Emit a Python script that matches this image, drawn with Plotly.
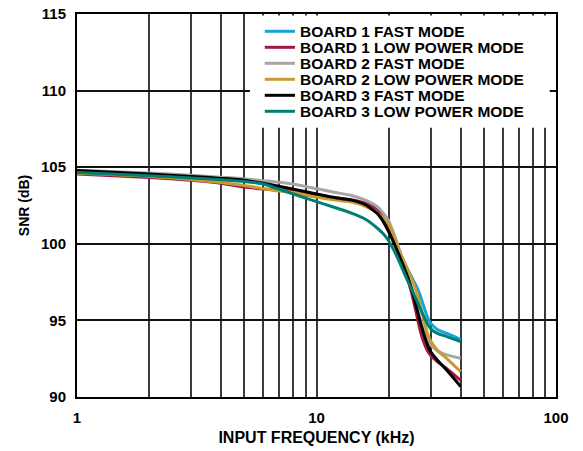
import plotly.graph_objects as go

# Input frequency (kHz) at which SNR was sampled
freq_khz = [1, 2, 3, 4, 5, 6, 7, 8, 10, 12, 14, 16, 18, 19, 20, 21, 22, 23, 24, 25,
            26, 27, 28, 29, 30, 32, 35, 40]

# SNR (dB) per board / mode
b1_fast = [104.70, 104.52, 104.37, 104.24, 104.12, 103.92, 103.72, 103.54, 103.20, 102.97,
           102.85, 102.60, 102.00, 101.55, 101.05, 100.40, 99.65, 98.95, 98.35, 97.80,
           97.30, 96.70, 95.95, 95.25, 94.80, 94.40, 94.15, 93.75]
b1_low = [104.55, 104.33, 104.15, 103.95, 103.70, 103.58, 103.50, 103.45, 103.20, 103.00,
          102.88, 102.65, 102.25, 101.70, 101.10, 100.35, 99.50, 98.60, 97.70, 96.75,
          95.60, 94.45, 93.60, 93.05, 92.70, 92.30, 91.85, 91.08]
b2_fast = [104.80, 104.62, 104.48, 104.35, 104.25, 104.12, 104.02, 103.90, 103.60, 103.35,
           103.15, 102.85, 102.40, 102.00, 101.50, 100.70, 99.80, 98.90, 98.00, 97.10,
           96.15, 95.20, 94.40, 93.80, 93.40, 93.00, 92.75, 92.53]
b2_low = [104.60, 104.40, 104.20, 104.00, 103.80, 103.60, 103.45, 103.35, 103.05, 102.85,
          102.72, 102.45, 102.00, 101.70, 101.30, 100.50, 99.65, 98.95, 98.30, 97.70,
          97.00, 96.10, 95.10, 94.20, 93.65, 93.05, 92.50, 91.66]
b3_fast = [104.78, 104.55, 104.40, 104.27, 104.15, 103.95, 103.75, 103.57, 103.25, 103.00,
           102.85, 102.55, 101.95, 101.45, 100.80, 100.10, 99.35, 98.60, 97.85, 97.00,
           96.00, 95.00, 94.15, 93.45, 92.95, 92.40, 91.75, 90.69]
b3_low = [104.65, 104.45, 104.30, 104.18, 104.07, 103.90, 103.55, 103.25, 102.75, 102.35,
          102.00, 101.60, 101.00, 100.65, 100.20, 99.60, 98.95, 98.25, 97.60, 97.00,
          96.40, 95.85, 95.30, 94.80, 94.45, 94.15, 93.94, 93.61]

series_names = [
    "BOARD 1 FAST MODE",
    "BOARD 1 LOW POWER MODE",
    "BOARD 2 FAST MODE",
    "BOARD 2 LOW POWER MODE",
    "BOARD 3 FAST MODE",
    "BOARD 3 LOW POWER MODE",
]
series_values = [b1_fast, b1_low, b2_fast, b2_low, b3_fast, b3_low]
series_colors = ["#17a2d9", "#a3183f", "#a6a6a6", "#c79b2f", "#000000", "#007f72"]

x_ticks = [1, 2, 3, 4, 5, 6, 7, 8, 9, 10, 20, 30, 40, 50, 60, 70, 80, 90, 100]
x_tick_text = ["1", "", "", "", "", "", "", "", "", "10", "", "", "", "", "", "", "", "", "100"]
y_ticks = [90, 95, 100, 105, 110, 115]

FONT = "Liberation Sans, Arial, Helvetica, sans-serif"

fig = go.Figure()
for name, vals, col in zip(series_names, series_values, series_colors):
    fig.add_trace(go.Scatter(
        x=freq_khz, y=vals, name=name, mode="lines",
        line=dict(color=col, width=3, shape="spline", smoothing=0.6),
        showlegend=False,
    ))

# Hand-built legend box (tighter row spacing than the built-in legend allows)
shapes = [dict(type="rect", xref="paper", yref="paper",
               x0=0.361, x1=0.987, y0=0.703, y1=0.996,
               fillcolor="white", line=dict(width=0), layer="above")]
annotations = []
row0_px, row_step_px, plot_h = 17.3, 16.0, 383.0
for i, (name, col) in enumerate(zip(series_names, series_colors)):
    yp = 1 - (row0_px + i * row_step_px) / plot_h
    shapes.append(dict(type="line", xref="paper", yref="paper",
                       x0=0.392, x1=0.455, y0=yp, y1=yp,
                       line=dict(color=col, width=3), layer="above"))
    annotations.append(dict(xref="paper", yref="paper", x=0.463, y=yp,
                            xanchor="left", yanchor="middle", showarrow=False,
                            borderpad=0,
                            text=name, font=dict(family=FONT, size=15.5, color="black", weight="bold")))

fig.update_layout(
    width=583, height=451,
    margin=dict(l=77, r=27, t=14, b=54),
    paper_bgcolor="white", plot_bgcolor="white",
    font=dict(family=FONT, color="black"),
    shapes=shapes, annotations=annotations,
    showlegend=False,
)
fig.update_xaxes(
    type="log", range=[0, 2],
    tickvals=x_ticks, ticktext=x_tick_text,
    tickfont=dict(size=15, weight="bold"),
    ticks="", ticklabelstandoff=6,
    showgrid=True, gridcolor="#3a3a3a", gridwidth=1.5,
    showline=True, linecolor="black", linewidth=2, mirror=True,
    title=dict(text="INPUT FREQUENCY (kHz)", font=dict(size=16, weight="bold"), standoff=7),
    automargin=False,
)
fig.update_yaxes(
    range=[90, 115], tickvals=y_ticks,
    tickfont=dict(size=15, weight="bold"),
    ticks="", ticklabelstandoff=6,
    showgrid=True, gridcolor="#111111", gridwidth=1.5,
    showline=True, linecolor="black", linewidth=2, mirror=True,
    title=dict(text="SNR (dB)", font=dict(size=14, weight="bold"), standoff=8),
    automargin=False,
)

fig.write_html("out.html")
